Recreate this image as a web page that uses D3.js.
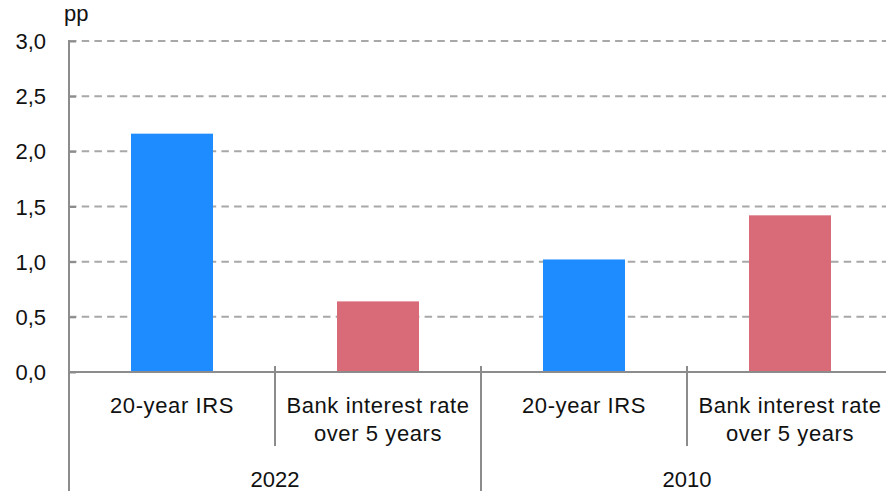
<!DOCTYPE html>
<html>
<head>
<meta charset="utf-8">
<script src="https://cdn.jsdelivr.net/npm/d3@7/dist/d3.min.js"></script>
<style>
  html, body { margin: 0; padding: 0; background: #fff; }
  svg { display: block; }
  text { font-family: "Liberation Sans", Arial, Helvetica, sans-serif; fill: #111; }
</style>
</head>
<body>
<svg id="chart" width="886" height="491"></svg>
<script>
// ---- data ----
const years = ["2022", "2010"];
const categories = ["20-year IRS", "Bank interest rate\nover 5 years"];
const values2022 = [2.16, 0.64];
const values2010 = [1.02, 1.42];
const seriesColors = ["#1e8bff", "#d96b78"];
const yTicks = [0, 0.5, 1.0, 1.5, 2.0, 2.5, 3.0];
const yUnit = "pp";

// build flat rows
const rows = [];
[values2022, values2010].forEach((vals, gi) => {
  vals.forEach((v, ci) => {
    rows.push({ key: years[gi] + "|" + ci, year: years[gi], gi, ci, label: categories[ci], value: v });
  });
});

const svg = d3.select("#chart");
const W = 886, H = 491;
const left = 69, right = 893, y0 = 372, yTop = 41;

const x = d3.scaleBand().domain(rows.map(d => d.key)).range([left, right]).paddingInner(0).paddingOuter(0);
const xGroup = d3.scaleBand().domain(years).range([left, right]).padding(0);
const y = d3.scaleLinear().domain([0, 3]).range([y0, yTop]);
const fmt = v => d3.format(".1f")(v).replace(".", ",");

// gridlines
svg.append("g").selectAll("line").data(yTicks.filter(t => t > 0)).join("line")
  .attr("x1", left).attr("x2", W)
  .attr("y1", d => y(d)).attr("y2", d => y(d))
  .attr("stroke", "#a8a8a8").attr("stroke-width", 2)
  .attr("stroke-dasharray", "7.5,5.2");

// bars
const barW = x.bandwidth() * 0.398;
svg.append("g").selectAll("rect").data(rows).join("rect")
  .attr("x", d => x(d.key) + (x.bandwidth() - barW) / 2)
  .attr("width", barW)
  .attr("y", d => y(d.value))
  .attr("height", d => y(0) - y(d.value))
  .attr("fill", d => seriesColors[d.ci]);

// y axis
const yAxis = d3.axisRight(y).tickValues(yTicks).tickSize(7).tickFormat("");
const ya = svg.append("g").attr("transform", `translate(${left},0)`).call(yAxis);
ya.select(".domain").remove();
ya.selectAll(".tick line").attr("stroke", "#8c8c8c").attr("stroke-width", 2);
svg.append("line").attr("x1", left).attr("x2", left).attr("y1", yTop - 1).attr("y2", H)
  .attr("stroke", "#8c8c8c").attr("stroke-width", 2);

// y tick labels
svg.append("g").selectAll("text").data(yTicks).join("text")
  .attr("x", 46).attr("y", d => y(d) + 8)
  .attr("text-anchor", "end").attr("font-size", 22)
  .text(d => fmt(d));

// unit
svg.append("text").attr("x", 64).attr("y", 21).attr("font-size", 22).text(yUnit);

// baseline
svg.append("line").attr("x1", left).attr("x2", W).attr("y1", y(0)).attr("y2", y(0))
  .attr("stroke", "#8c8c8c").attr("stroke-width", 2);

// separators between categories
rows.forEach((d, i) => {
  if (i === 0) return;
  const xs = x(d.key);
  const groupBoundary = d.ci === 0;
  svg.append("line").attr("x1", xs).attr("x2", xs)
    .attr("y1", y(0) - 6).attr("y2", groupBoundary ? H : 446)
    .attr("stroke", "#8c8c8c").attr("stroke-width", 2);
});

// category labels
const cl = svg.append("g").selectAll("text").data(rows).join("text")
  .attr("text-anchor", "middle").attr("font-size", 22)
  .attr("transform", d => `translate(${x(d.key) + x.bandwidth() / 2},413)`);
cl.each(function(d) {
  const lines = d.label.split("\n");
  d3.select(this).selectAll("tspan").data(lines).join("tspan")
    .attr("x", 0).attr("y", (l, i) => i * 28)
    .attr("letter-spacing", 0.6)
    .text(l => l);
});

// year labels
svg.append("g").selectAll("text").data(years).join("text")
  .attr("x", d => xGroup(d) + xGroup.bandwidth() / 2).attr("y", 487)
  .attr("text-anchor", "middle").attr("font-size", 22)
  .text(d => d);
</script>
</body>
</html>
